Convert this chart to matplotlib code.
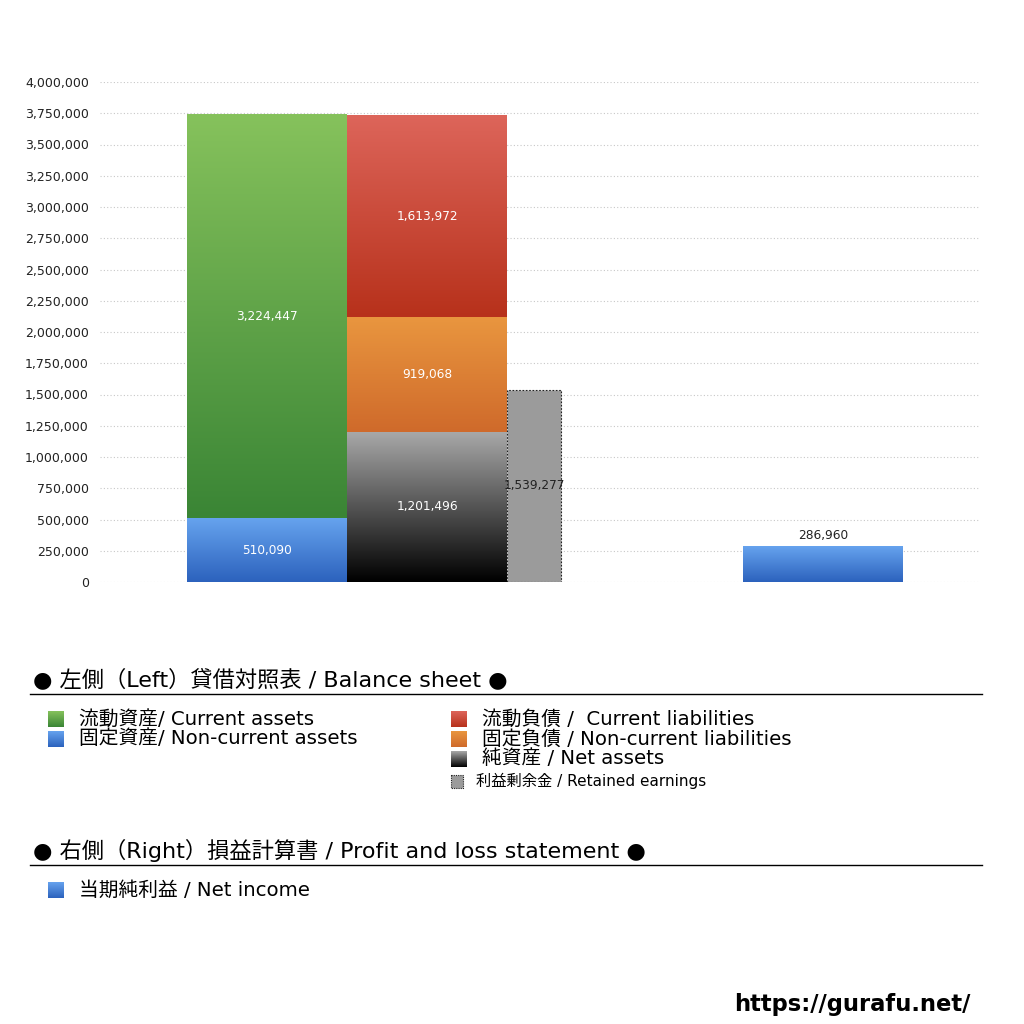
import numpy as np
import matplotlib.pyplot as plt
from matplotlib.colors import to_rgb
from matplotlib.patches import Rectangle

plt.rcParams['font.family'] = ['DejaVu Sans', 'Noto Sans CJK JP']

# balance sheet (left) and P/L (right) values
assets_labels = ['固定資産', '流動資産']
assets_values = [510090, 3224447]
liab_labels = ['純資産', '固定負債', '流動負債']
liab_values = [1201496, 919068, 1613972]
retained_earnings = 1539277
net_income = 286960

y_ticks = list(range(0, 4000001, 250000))

assets_colors = [('#66a3ee', '#2c62bd'), ('#86c25c', '#3a8535')]
liab_colors = [('#a9a9a9', '#000000'), ('#e9963f', '#cf6a2b'), ('#dd655a', '#b7311b')]
income_colors = ('#66a3ee', '#2c62bd')


def gradient(ax, x0, x1, y0, y1, top, bottom, zorder=2):
    t = np.linspace(0, 1, 256)[:, None, None]
    img = (1 - t) * np.array(to_rgb(top)) + t * np.array(to_rgb(bottom))
    ax.imshow(img, extent=[x0, x1, y0, y1], aspect='auto', zorder=zorder,
              interpolation='bilinear')


def fmt(v):
    return '{:,}'.format(v)


fig = plt.figure(figsize=(10.24, 10.24), dpi=100)
ax = fig.add_axes([100 / 1024, 442 / 1024, 880 / 1024, 500 / 1024])

# x layout (pixels inside the axes)
w = 160
x_assets = 87
x_liab = x_assets + w
x_ret = x_liab + w
w_ret = 54
x_income = 643

bottom = 0
for v, (c1, c2) in zip(assets_values, assets_colors):
    gradient(ax, x_assets, x_assets + w, bottom, bottom + v, c1, c2)
    ax.text(x_assets + w / 2, bottom + v / 2, fmt(v), color='white', fontsize=8.7,
            ha='center', va='center', zorder=5)
    bottom += v

bottom = 0
for v, (c1, c2) in zip(liab_values, liab_colors):
    gradient(ax, x_liab, x_liab + w, bottom, bottom + v, c1, c2)
    ax.text(x_liab + w / 2, bottom + v / 2, fmt(v), color='white', fontsize=8.7,
            ha='center', va='center', zorder=5)
    bottom += v

ax.add_patch(Rectangle((x_ret, 0), w_ret, retained_earnings, facecolor='#9b9b9b',
                       edgecolor='#222222', linestyle=(0, (1.5, 1.5)), linewidth=0.8,
                       zorder=3))
ax.text(x_ret + w_ret / 2, retained_earnings / 2, fmt(retained_earnings), color='#222222',
        fontsize=8.7, ha='center', va='center', zorder=5)

gradient(ax, x_income, x_income + w, 0, net_income, *income_colors)
ax.text(x_income + w / 2, net_income + 30000, fmt(net_income), color='#222222',
        fontsize=8.7, ha='center', va='bottom', zorder=5)

ax.set_xlim(0, 880)
ax.set_ylim(0, 4000000)
ax.set_yticks(y_ticks)
ax.set_yticklabels([fmt(t) for t in y_ticks], fontsize=9, color='#222222')
ax.set_xticks([])
ax.tick_params(axis='y', length=0, pad=8)
ax.grid(axis='y', color='#c8c8c8', linestyle=(0, (1, 2)), linewidth=0.8, zorder=0)
ax.set_axisbelow(True)
for s in ax.spines.values():
    s.set_visible(False)

# legend area, drawn in pixel coordinates
lg = fig.add_axes([0, 0, 1, 1])
lg.set_xlim(0, 1024)
lg.set_ylim(1024, 0)
lg.axis('off')
lg.patch.set_visible(False)


def head(y, text):
    lg.text(33, y, text, fontsize=16, ha='left', va='center', color='black')
    lg.plot([30, 982], [y + 15, y + 15], color='black', linewidth=1)


def item(x, y, text, c1, c2, size=16, fs=14.2):
    gradient(lg, x, x + size, y + size / 2, y - size / 2, c1, c2)
    lg.text(x + 31, y, text, fontsize=fs, ha='left', va='center', color='black')


head(679, '● 左側（Left）貸借対照表 / Balance sheet ●')
item(48, 719, '流動資産/ Current assets', *assets_colors[1])
item(48, 739, '固定資産/ Non-current assets', *assets_colors[0])
item(451, 719, '流動負債 /  Current liabilities', *liab_colors[2])
item(451, 739, '固定負債 / Non-current liabilities', *liab_colors[1])
item(451, 759, '純資産 / Net assets', *liab_colors[0])
lg.add_patch(Rectangle((451, 775), 12, 13, facecolor='#9b9b9b', edgecolor='#222222',
                       linestyle=(0, (1, 1)), linewidth=0.8))
lg.text(476, 781, '利益剰余金 / Retained earnings', fontsize=11, ha='left',
        va='center', color='black')

head(850, '● 右側（Right）損益計算書 / Profit and loss statement ●')
item(48, 890, '当期純利益 / Net income', *income_colors)

lg.text(970, 1004, 'https://gurafu.net/', fontsize=16.3, fontweight='bold',
        ha='right', va='center', color='black')

fig.savefig('out.png', dpi=100)
